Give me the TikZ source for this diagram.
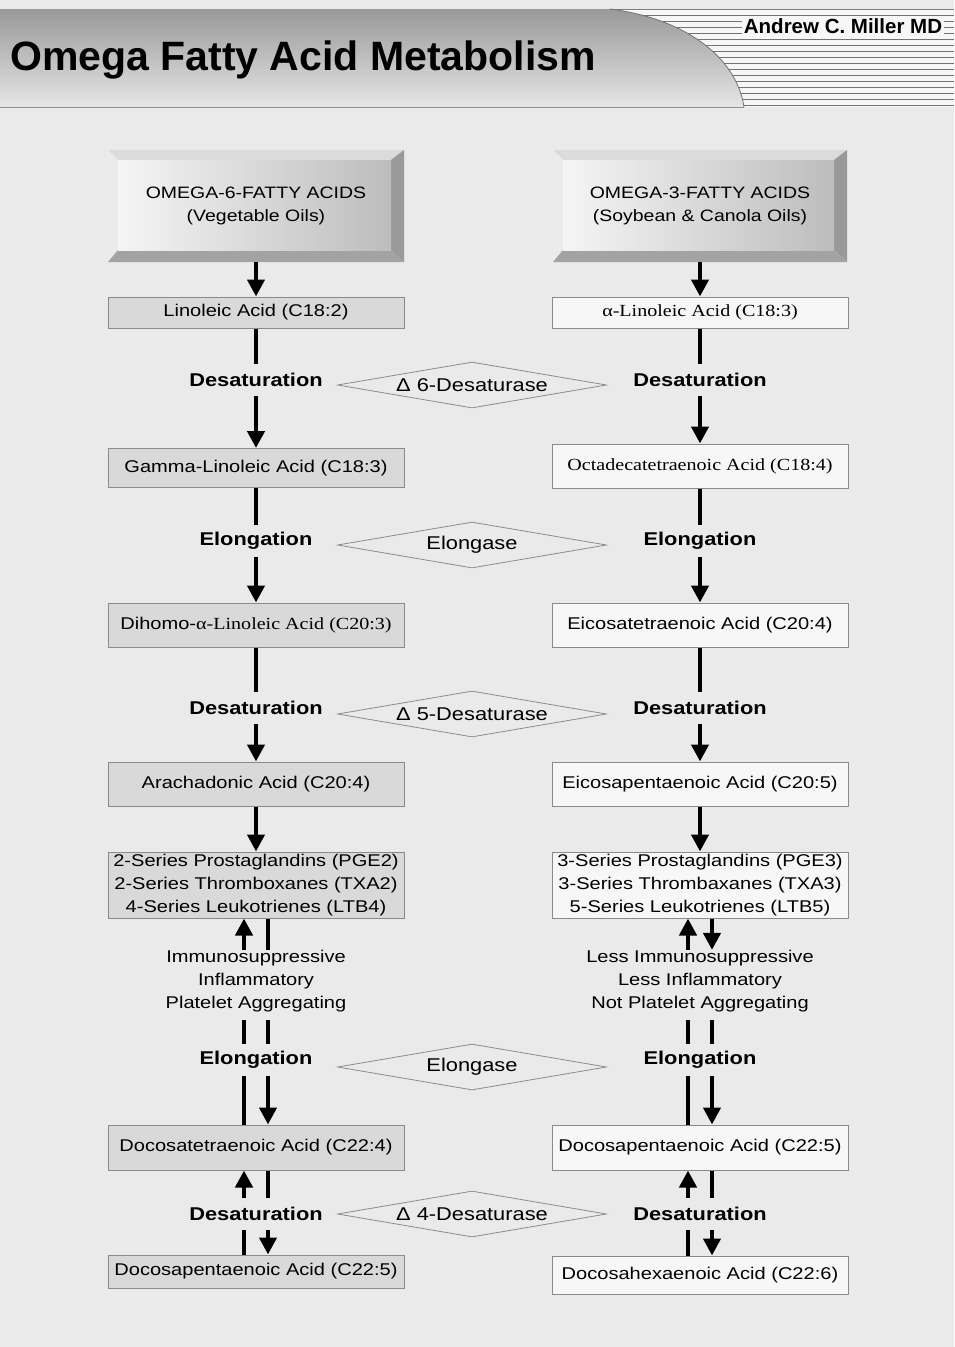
\documentclass[tikz,border=0pt]{standalone}
\usepackage{fontspec}
\setmainfont{Liberation Sans}[FakeStretch=1.18]
\newfontfamily\serifst{Liberation Serif}[FakeStretch=1.18]
\newfontfamily\titlefont{Liberation Sans}
\usetikzlibrary{arrows.meta,shapes.geometric}
\definecolor{bgc}{HTML}{EAEAEA}
\definecolor{lfill}{HTML}{D9D9D9}
\definecolor{rfill}{HTML}{F7F7F7}
\definecolor{edgec}{HTML}{8A8A8A}
\tikzset{
  cbox/.style={draw=edgec, line width=1pt, minimum width=296pt, inner sep=0pt,
    font=\fontsize{17}{23}\selectfont, align=center},
  lbox/.style={cbox, fill=lfill},
  rbox/.style={cbox, fill=rfill},
  lab/.style={font=\bfseries\fontsize{18.5}{22}\selectfont, minimum height=31pt, inner sep=0pt},
  eff/.style={font=\fontsize{17}{23}\selectfont, align=center, inner sep=0pt},
  flow/.style={line width=4.8pt},
  arr/.style={flow, -{Triangle[length=17pt,width=17pt]}},
  enz/.style={diamond, draw=black!45, line width=0.8pt, fill=bgc, aspect=5.85,
    minimum width=269pt, minimum height=46pt, inner sep=0pt,
    font=\fontsize{18.5}{22}\selectfont},
  topbox/.style={minimum width=296pt, minimum height=112pt, inner sep=0pt,
    font=\fontsize{16.5}{23}\selectfont, align=center},
  stripe/.style={draw=black!55, line width=1pt},
  bvtop/.style={fill=black!14},
  bvleft/.style={fill=black!8},
  bvright/.style={fill=black!40},
  bvbot/.style={fill=black!36},
}
\newcommand\bevelbox[4]{%
  \fill[bvtop] (#1,#2) -- (#3,#2) -- ({#3-13},{#2+10}) -- ({#1+10},{#2+10}) -- cycle;
  \fill[bvleft] (#1,#2) -- ({#1+10},{#2+10}) -- ({#1+10},{#4-12}) -- (#1,#4) -- cycle;
  \fill[bvright] (#3,#2) -- (#3,#4) -- ({#3-13},{#4-12}) -- ({#3-13},{#2+10}) -- cycle;
  \fill[bvbot] (#1,#4) -- (#3,#4) -- ({#3-13},{#4-12}) -- ({#1+10},{#4-12}) -- cycle;
  \shade[left color=black!4, right color=black!26] ({#1+10},{#2+10}) rectangle ({#3-13},{#4-12});
}
\begin{document}
\begin{tikzpicture}[x=1pt,y=-1pt]
\useasboundingbox (0,0) rectangle (954,1347);
\fill[bgc] (0,0) rectangle (954,1347);
% header
\fill[black!3] (560,9) rectangle (954,107);
\foreach \yy in {15,21,...,105} \draw[stripe] (560,\yy) -- (954,\yy);
\draw[black!50, line width=1pt] (0,9) -- (954,9);
\shade[top color=black!40, bottom color=black!10] (0,9) -- (610,9) .. controls (682,18) and (736,55) .. (744,107) -- (0,107) -- cycle;
\draw[black!55, line width=0.8pt] (610,9) .. controls (682,18) and (736,55) .. (744,107);
\draw[black!45, line width=1pt] (0,107) -- (744,107);
\node[font=\titlefont\bfseries\fontsize{41}{48}\selectfont, anchor=base west, inner sep=0pt] (title) at (10,70) {Omega Fatty Acid Metabolism};
\node[font=\titlefont\bfseries\fontsize{20.5}{24}\selectfont, fill=black!3, inner sep=1.5pt] (author) at (843,26) {Andrew C. Miller MD};

% top boxes
\bevelbox{108}{150}{404}{262}
\bevelbox{553}{150}{847}{262}
\node[topbox] (top6) at (256,206) {OMEGA-6-FATTY ACIDS\\(Vegetable Oils)};
\node[topbox] (top3) at (700,206) {OMEGA-3-FATTY ACIDS\\(Soybean \& Canola Oils)};

% left column
\node[lbox, minimum height=31pt] (lin6) at (256,312.5) {Linoleic Acid (C18:2)};
\node[lbox, minimum height=39pt] (gam6) at (256,468) {Gamma-Linoleic Acid (C18:3)};
\node[lbox, minimum height=44pt] (dih6) at (256,625) {Dihomo-{\serifst α-Linoleic Acid (C20:3)}};
\node[lbox, minimum height=44pt] (ara6) at (256,784) {Arachadonic Acid (C20:4)};
\node[lbox, minimum height=66pt] (ser6) at (256,885) {2-Series Prostaglandins (PGE2)\\2-Series Thromboxanes (TXA2)\\4-Series Leukotrienes (LTB4)};
\node[lbox, minimum height=45pt] (dca6) at (256,1147.5) {Docosatetraenoic Acid (C22:4)};
\node[lbox, minimum height=33pt] (dcb6) at (256,1271.5) {Docosapentaenoic Acid (C22:5)};

% right column
\node[rbox, minimum height=31pt] (lin3) at (700,312.5) {\serifst α-Linoleic Acid (C18:3)};
\node[rbox, minimum height=44pt] (oct3) at (700,466) {\serifst Octadecatetraenoic Acid (C18:4)};
\node[rbox, minimum height=44pt] (eia3) at (700,625) {Eicosatetraenoic Acid (C20:4)};
\node[rbox, minimum height=44pt] (eib3) at (700,784) {Eicosapentaenoic Acid (C20:5)};
\node[rbox, minimum height=66pt] (ser3) at (700,885) {3-Series Prostaglandins (PGE3)\\3-Series Thrombaxanes (TXA3)\\5-Series Leukotrienes (LTB5)};
\node[rbox, minimum height=45pt] (dca3) at (700,1147.5) {Docosapentaenoic Acid (C22:5)};
\node[rbox, minimum height=38pt] (dcb3) at (700,1275) {Docosahexaenoic Acid (C22:6)};

% process labels
\node[lab] (d1l) at (256,380) {Desaturation};
\node[lab] (e1l) at (256,541) {Elongation};
\node[lab] (d2l) at (256,708) {Desaturation};
\node[lab] (e2l) at (256,1060) {Elongation};
\node[lab] (d3l) at (256,1214) {Desaturation};
\node[lab] (d1r) at (700,380) {Desaturation};
\node[lab] (e1r) at (700,541) {Elongation};
\node[lab] (d2r) at (700,708) {Desaturation};
\node[lab] (e2r) at (700,1060) {Elongation};
\node[lab] (d3r) at (700,1214) {Desaturation};

% enzymes
\node[enz] (enz1) at (472,385) {Δ 6-Desaturase};
\node[enz] (enz2) at (472,545) {Elongase};
\node[enz] (enz3) at (472,714) {Δ 5-Desaturase};
\node[enz] (enz4) at (472,1067) {Elongase};
\node[enz] (enz5) at (472,1214) {Δ 4-Desaturase};

% effects
\node[eff] (eff6) at (256,981) {Immunosuppressive\\Inflammatory\\Platelet Aggregating};
\node[eff] (eff3) at (700,981) {Less Immunosuppressive\\Less Inflammatory\\Not Platelet Aggregating};

% connectors left
\draw[arr] (top6.south) -- (lin6.north);
\draw[flow] (lin6.south) -- (d1l.north);
\draw[arr] (d1l.south) -- (gam6.north);
\draw[flow] (gam6.south) -- (e1l.north);
\draw[arr] (e1l.south) -- (dih6.north);
\draw[flow] (dih6.south) -- (d2l.north);
\draw[arr] (d2l.south) -- (ara6.north);
\draw[arr] (ara6.south) -- (ser6.north);
\draw[arr] ([xshift=-12pt]eff6.north) -- ([xshift=-12pt]ser6.south);
\draw[flow] ([xshift=12pt]ser6.south) -- ([xshift=12pt]eff6.north);
\draw[flow, shorten <=8pt] ([xshift=-12pt]eff6.south) -- ([xshift=-12pt]e2l.north);
\draw[flow, shorten <=8pt] ([xshift=12pt]eff6.south) -- ([xshift=12pt]e2l.north);
\draw[flow] ([xshift=-12pt]e2l.south) -- ([xshift=-12pt]dca6.north);
\draw[arr] ([xshift=12pt]e2l.south) -- ([xshift=12pt]dca6.north);
\draw[arr] ([xshift=-12pt]d3l.north) -- ([xshift=-12pt]dca6.south);
\draw[flow] ([xshift=12pt]dca6.south) -- ([xshift=12pt]d3l.north);
\draw[flow] ([xshift=-12pt]d3l.south) -- ([xshift=-12pt]dcb6.north);
\draw[arr] ([xshift=12pt]d3l.south) -- ([xshift=12pt]dcb6.north);

% connectors right
\draw[arr] (top3.south) -- (lin3.north);
\draw[flow] (lin3.south) -- (d1r.north);
\draw[arr] (d1r.south) -- (oct3.north);
\draw[flow] (oct3.south) -- (e1r.north);
\draw[arr] (e1r.south) -- (eia3.north);
\draw[flow] (eia3.south) -- (d2r.north);
\draw[arr] (d2r.south) -- (eib3.north);
\draw[arr] (eib3.south) -- (ser3.north);
\draw[arr] ([xshift=-12pt]eff3.north) -- ([xshift=-12pt]ser3.south);
\draw[arr] ([xshift=12pt]ser3.south) -- ([xshift=12pt]eff3.north);
\draw[flow, shorten <=8pt] ([xshift=-12pt]eff3.south) -- ([xshift=-12pt]e2r.north);
\draw[flow, shorten <=8pt] ([xshift=12pt]eff3.south) -- ([xshift=12pt]e2r.north);
\draw[flow] ([xshift=-12pt]e2r.south) -- ([xshift=-12pt]dca3.north);
\draw[arr] ([xshift=12pt]e2r.south) -- ([xshift=12pt]dca3.north);
\draw[arr] ([xshift=-12pt]d3r.north) -- ([xshift=-12pt]dca3.south);
\draw[flow] ([xshift=12pt]dca3.south) -- ([xshift=12pt]d3r.north);
\draw[flow] ([xshift=-12pt]d3r.south) -- ([xshift=-12pt]dcb3.north);
\draw[arr] ([xshift=12pt]d3r.south) -- ([xshift=12pt]dcb3.north);
\end{tikzpicture}
\end{document}
